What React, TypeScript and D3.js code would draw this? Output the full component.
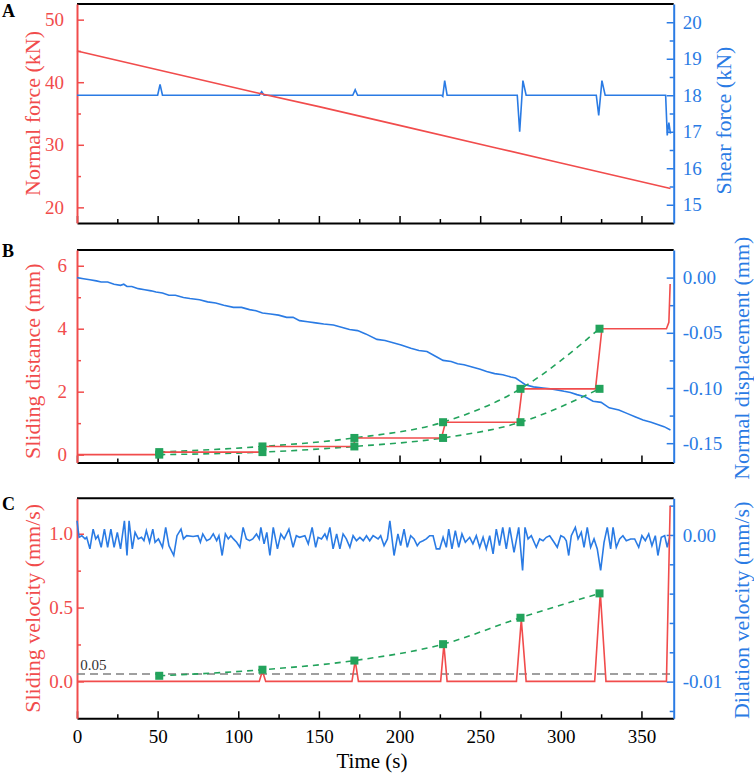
import React, { useEffect, useRef } from "react";
import * as d3 from "d3";

// ---- panel A: normal force (left) and shear force (right)
const normalForceT = [0, 60, 110, 150, 200, 260, 300, 330, 368];
const normalForce = [45.0, 41.4, 38.4, 36.1, 33.1, 29.5, 27.1, 25.3, 23.0];

const shearT = [0, 50, 51.5, 53, 113, 114.5, 116, 171, 172.5, 174, 226, 226.8, 228, 229.5, 273, 274.5, 276.5, 278.5, 322, 323.5, 325.5, 327.5, 365, 366, 367, 368];
const shear = [18, 18, 18.3, 18, 18, 18.1, 18, 18, 18.15, 18, 18, 17.97, 18.4, 18, 18, 17.0, 18.4, 18, 18, 17.45, 18.4, 18, 18, 16.9, 17.25, 16.95];

// ---- panel B: sliding distance (left) and normal displacement (right)
const slideDistT = [0, 50, 52, 114, 116, 171, 173, 226, 228.5, 273.5, 276, 321.5, 325.5, 365.5, 367, 367.8];
const slideDist = [0, 0, 0.08, 0.08, 0.26, 0.26, 0.53, 0.53, 1.03, 1.03, 2.09, 2.09, 4.0, 4.0, 4.2, 5.42];

const eventT = [51, 115, 172, 227, 275, 324];
const distBefore = [0.0, 0.08, 0.26, 0.53, 1.03, 2.09];
const distAfter = [0.08, 0.26, 0.53, 1.03, 2.09, 4.0];

const normDispT = [
  0, 4, 8, 12, 15, 19, 23, 27, 29, 31, 34, 38, 42, 46, 49, 53, 57, 61, 66, 70, 76, 81, 86, 91, 97, 102, 107, 111, 115, 120,
  125, 130, 134, 138, 143, 148, 153, 159, 164, 169, 174, 179, 186, 191, 196, 201, 207, 212, 217, 222, 227, 232, 236, 240,
  245, 250, 254, 259, 264, 269, 272, 275, 278, 283, 289, 295, 302, 306, 310, 315, 320, 325, 330, 336, 341, 346, 351, 356,
  360, 364, 368,
];
const normDisp = [
  0.0, -0.001, -0.002, -0.003, -0.004, -0.004, -0.006, -0.007, -0.006, -0.008, -0.008, -0.010, -0.011, -0.012, -0.013,
  -0.014, -0.016, -0.016, -0.018, -0.019, -0.020, -0.022, -0.023, -0.025, -0.027, -0.027, -0.029, -0.030, -0.032, -0.033,
  -0.034, -0.036, -0.036, -0.039, -0.040, -0.041, -0.042, -0.043, -0.045, -0.047, -0.048, -0.051, -0.056, -0.057, -0.059,
  -0.061, -0.064, -0.066, -0.067, -0.071, -0.075, -0.076, -0.078, -0.079, -0.081, -0.083, -0.085, -0.087, -0.088, -0.090,
  -0.091, -0.094, -0.097, -0.099, -0.100, -0.101, -0.103, -0.104, -0.106, -0.108, -0.112, -0.113, -0.118, -0.120, -0.123,
  -0.126, -0.129, -0.131, -0.133, -0.135, -0.138,
];

// ---- panel C: sliding velocity (left) and dilation velocity (right)
const slideVelT = [0, 113, 115, 117, 170.5, 172.5, 174.5, 225.5, 227.5, 229.5, 272.5, 275.5, 278.5, 321, 324.5, 328, 365.5, 367.8];
const slideVel = [0, 0, 0.07, 0, 0, 0.14, 0, 0, 0.25, 0, 0, 0.42, 0, 0, 0.6, 0, 0, 1.19];
const peakVel = [0.038, 0.079, 0.141, 0.252, 0.431, 0.596];
const thresholdVel = 0.05;

const dilT = [
  0, 1.3, 3, 5, 6, 8, 10, 11.6, 13, 15, 17, 19, 21, 23, 25, 27, 29.4, 31, 32.3, 34.3, 36, 38, 40, 41.5, 43, 45, 47, 48.4,
  50.5, 53, 55, 57, 60, 62, 64.5, 66, 68, 72, 75, 76.5, 78, 80.4, 82.5, 84.5, 86.6, 88, 90, 92, 93.8, 95.4, 97, 99, 101,
  103, 105, 107, 109, 111.3, 113, 114, 116, 117.7, 119.6, 121.7, 124.3, 126.4, 128.5, 131.4, 134, 136, 138, 141.3, 143.4,
  145.8, 148, 149.5, 151.6, 153.7, 155, 156.8, 158.8, 161, 163, 165, 167, 169.2, 171.2, 173.3, 175.4, 177.5, 179.5, 181.5,
  183.6, 186.7, 188.3, 190.4, 192.5, 194, 196.6, 199, 200.7, 202.8, 204.8, 206.9, 209, 211, 212.5, 214.6, 216.6, 218.7,
  220.8, 222.8, 224.9, 227, 229, 230.5, 232.5, 234.6, 236.7, 238.7, 240.8, 243.5, 245.5, 247.6, 249.7, 251.8, 253.8,
  255.9, 258, 260, 262, 264, 266.2, 268.3, 271, 273.9, 276.3, 277.8, 279.7, 281.7, 284.8, 286.9, 289, 291, 293.1, 295.8,
  297.8, 300, 302, 303.4, 304.9, 306.5, 309, 310.7, 312.7, 314.4, 316.4, 318.5, 320.6, 322.6, 324.7, 326.8, 328.8, 330.9,
  332.4, 334.4, 336.5, 338.5, 340.6, 343.3, 345.8, 348.3, 350.3, 352.4, 354.5, 356.5, 358.6, 360.2, 362.3, 364.4, 366, 367.5,
];
const dilVel = [
  0.00097, -0.00016, -0.00005, -0.00027, -0.00016, -0.00095, 0.0004, -0.00027, -0.00005, -0.00084, 0.0004, -0.00084, 0.0004,
  -0.00084, 0.00018, -0.00095, 0.00097, -0.0014, 0.00097, -0.00095, 0.00018, -0.00027, -0.00016, -0.00039, 0.00029, -0.0005,
  0.0004, -0.0005, -0.00027, -0.00084, 0.00052, -0.00073, -0.0014, -0.00005, 0.0004, -0.00027, -0.00005, -0.0001, -0.00005,
  -0.0005, 0.00007, -0.00039, -0.00027, 0.00007, -0.00039, -0.00005, -0.0014, 0.00007, -0.00027, -0.00005, -0.00027,
  -0.0005, -0.00084, 0.00052, -0.00027, -0.00039, -0.00027, 0.00007, -0.00027, 0.00052, -0.00061, 0.00018, -0.0014,
  0.00052, -0.00095, 0.00007, -0.00027, 0.0004, -0.00084, -0.00005, -0.00016, -0.00005, -0.00061, 0.00052, -0.00084,
  -0.00016, -0.00027, 0.00007, -0.00027, 0.00052, -0.00095, 0.00007, -0.00095, 0.00007, -0.00027, -0.00084, -0.00005,
  -0.00039, -0.00016, -0.00039, -0.00005, -0.00039, -0.00005, -0.00027, -0.00005, -0.00073, -0.00027, 0.00097, -0.0014,
  0.00007, -0.00073, 0.0004, -0.00084, -0.00005, -0.00027, -0.00073, -0.0005, -0.00039, -0.00027, -0.00005, -0.00005,
  -0.00095, -0.00095, -0.00016, -0.00084, 0.0004, -0.00095, 0.00029, -0.00084, 0.00007, -0.0005, -0.00016, -0.00061,
  -0.00005, -0.00084, -0.00016, -0.00095, -0.00005, -0.00129, 0.0004, -0.00073, 0.00052, -0.00095, 0.00052, -0.00118,
  0.00052, -0.00242, 0.00052, -0.00027, -0.00005, -0.00084, -0.00027, -0.00039, -0.00016, -0.00005, -0.0005, -0.00084,
  -0.00005, -0.00016, -0.00039, -0.0014, -0.00005, 0.00052, -0.00027, 0.00018, -0.00084, 0.00052, -0.00084, -0.00027,
  -0.00095, -0.00242, -0.0005, 0.00052, -0.00095, 0.00052, -0.00084, -0.00027, -0.00005, -0.00039, -0.00027, -0.00027,
  -0.00084, -0.00005, -0.00039, 0.00007, -0.00073, -0.00005, -0.0014, -0.00016, -0.00005, -0.00084, -0.00016,
];

// ---- ticks
const timeTicks = [0, 50, 100, 150, 200, 250, 300, 350];
const timeMinor = [25, 75, 125, 175, 225, 275, 325];

const RED = "#f14c4c";
const BLUE = "#2a7be4";
const GREEN = "#23a35c";
const FONT = "Liberation Serif, Times New Roman, serif";

const X0 = 77;
const X1 = 673.7;

type Sel = d3.Selection<SVGGElement, unknown, null, undefined>;

function styleAxis(g: Sel, color: string, labelSize: number) {
  g.attr("font-family", FONT).attr("font-size", labelSize);
  g.select(".domain").attr("stroke", color).attr("stroke-width", 2);
  g.selectAll(".tick line").attr("stroke", color).attr("stroke-width", 1.5);
  g.selectAll(".tick text").attr("fill", color);
}

function fmtSigned(digits: number) {
  return (d: any) => (d < 0 ? "-" : "") + Math.abs(+d).toFixed(digits);
}

function drawPanel(
  svg: d3.Selection<SVGSVGElement, unknown, null, undefined>,
  top: number,
  bottom: number,
  yL: d3.ScaleLinear<number, number>,
  yR: d3.ScaleLinear<number, number>,
  opts: {
    leftMajor: number[]; leftMinor: number[]; leftFmt: (d: any) => string; leftPad: number;
    rightMajor: number[]; rightMinor: number[]; rightFmt: (d: any) => string;
    showTimeLabels: boolean;
  }
) {
  const x = d3.scaleLinear().domain([0, 370]).range([X0, X1]);
  const g = svg.append("g");

  // top frame
  g.append("line").attr("x1", X0).attr("x2", X1).attr("y1", top).attr("y2", top).attr("stroke", "#000").attr("stroke-width", 2);

  // bottom time axis
  const bx = g.append("g").attr("transform", `translate(0,${bottom})`)
    .call(d3.axisBottom(x).tickValues(timeTicks).tickSizeInner(-7).tickSizeOuter(0).tickPadding(11)
      .tickFormat(opts.showTimeLabels ? (d: any) => String(d) : () => ""));
  styleAxis(bx, "#000", 19);
  const bxm = g.append("g").attr("transform", `translate(0,${bottom})`)
    .call(d3.axisBottom(x).tickValues(timeMinor).tickSizeInner(-4).tickFormat(() => ""));
  bxm.select(".domain").remove();
  bxm.selectAll(".tick line").attr("stroke", "#000").attr("stroke-width", 1.5);

  // left axis
  const la = g.append("g").attr("transform", `translate(${X0},0)`)
    .call(d3.axisLeft(yL).tickValues(opts.leftMajor).tickSizeInner(-7).tickSizeOuter(0).tickPadding(opts.leftPad).tickFormat(opts.leftFmt));
  styleAxis(la, RED, 19);
  const lam = g.append("g").attr("transform", `translate(${X0},0)`)
    .call(d3.axisLeft(yL).tickValues(opts.leftMinor).tickSizeInner(-4).tickFormat(() => ""));
  lam.select(".domain").remove();
  lam.selectAll(".tick line").attr("stroke", RED).attr("stroke-width", 1.5);

  // right axis
  const ra = g.append("g").attr("transform", `translate(${X1},0)`)
    .call(d3.axisRight(yR).tickValues(opts.rightMajor).tickSizeInner(-7).tickSizeOuter(0).tickPadding(9).tickFormat(opts.rightFmt));
  styleAxis(ra, BLUE, 19);
  const ram = g.append("g").attr("transform", `translate(${X1},0)`)
    .call(d3.axisRight(yR).tickValues(opts.rightMinor).tickSizeInner(-4).tickFormat(() => ""));
  ram.select(".domain").remove();
  ram.selectAll(".tick line").attr("stroke", BLUE).attr("stroke-width", 1.5);

  return { g, x };
}

function lineOf(x: d3.ScaleLinear<number, number>, y: d3.ScaleLinear<number, number>, ts: number[], vs: number[], curve: d3.CurveFactory = d3.curveLinear) {
  return d3.line<number>().x((_, i) => x(ts[i])).y((v) => y(v)).curve(curve)(vs) || "";
}

function MakeChart(ref: React.MutableRefObject<SVGSVGElement | null>) {
  const svg = d3.select(ref.current as SVGSVGElement);
  svg.selectAll("*").remove();
  svg.attr("font-family", FONT);

  //============================ panel A
  const aTop = 4, aBot = 223;
  const yA = d3.scaleLinear().domain([17.5, 52.5]).range([aBot, aTop]);
  const yAr = d3.scaleLinear().domain([14.5, 20.5]).range([aBot, aTop]);
  const A = drawPanel(svg, aTop, aBot, yA, yAr, {
    leftMajor: [20, 30, 40, 50], leftMinor: [25, 35, 45], leftFmt: (d) => String(d), leftPad: 13,
    rightMajor: [15, 16, 17, 18, 19, 20], rightMinor: [15.5, 16.5, 17.5, 18.5, 19.5], rightFmt: (d) => String(d),
    showTimeLabels: false,
  });
  A.g.append("path").attr("d", lineOf(A.x, yAr, shearT, shear)).attr("fill", "none").attr("stroke", BLUE).attr("stroke-width", 1.6);
  A.g.append("path").attr("d", lineOf(A.x, yA, normalForceT, normalForce)).attr("fill", "none").attr("stroke", RED).attr("stroke-width", 1.6);

  //============================ panel B
  const bTop = 250, bBot = 462.5;
  const yB = d3.scaleLinear().domain([-0.25, 6.5]).range([bBot, bTop]);
  const yBr = d3.scaleLinear().domain([-0.1675, 0.025]).range([bBot, bTop]);
  const B = drawPanel(svg, bTop, bBot, yB, yBr, {
    leftMajor: [0, 2, 4, 6], leftMinor: [1, 3, 5], leftFmt: (d) => String(d), leftPad: 10,
    rightMajor: [0, -0.05, -0.1, -0.15], rightMinor: [-0.025, -0.075, -0.125], rightFmt: fmtSigned(2),
    showTimeLabels: false,
  });
  B.g.append("path").attr("d", lineOf(B.x, yBr, normDispT, normDisp)).attr("fill", "none").attr("stroke", BLUE).attr("stroke-width", 1.6);
  [distBefore, distAfter].forEach((vals) => {
    B.g.append("path").attr("d", lineOf(B.x, yB, eventT, vals, d3.curveMonotoneX))
      .attr("fill", "none").attr("stroke", GREEN).attr("stroke-width", 1.6).attr("stroke-dasharray", "6,5");
  });
  B.g.append("path").attr("d", lineOf(B.x, yB, slideDistT, slideDist)).attr("fill", "none").attr("stroke", RED).attr("stroke-width", 1.6);
  [distBefore, distAfter].forEach((vals) => {
    B.g.append("g").selectAll("rect").data(vals).enter().append("rect")
      .attr("x", (_, i) => B.x(eventT[i]) - 4).attr("y", (d) => yB(d) - 4)
      .attr("width", 8).attr("height", 8).attr("fill", GREEN);
  });

  //============================ panel C
  const cTop = 498.3, cBot = 718.3;
  const yC = d3.scaleLinear().domain([-0.25, 1.24]).range([cBot, cTop]);
  const yCr = d3.scaleLinear().domain([-0.0125, 0.0025]).range([cBot, cTop]);
  const C = drawPanel(svg, cTop, cBot, yC, yCr, {
    leftMajor: [0, 0.5, 1.0], leftMinor: [0.25, 0.75], leftFmt: (d) => (+d).toFixed(1), leftPad: 4,
    rightMajor: [0, -0.01], rightMinor: [0.002, -0.002, -0.004, -0.006, -0.008, -0.012], rightFmt: fmtSigned(2),
    showTimeLabels: true,
  });
  C.g.append("line").attr("x1", C.x(0)).attr("x2", C.x(370)).attr("y1", yC(thresholdVel)).attr("y2", yC(thresholdVel))
    .attr("stroke", "#808080").attr("stroke-width", 1.6).attr("stroke-dasharray", "8,5");
  C.g.append("text").attr("x", C.x(2)).attr("y", yC(thresholdVel) - 4).attr("font-size", 15)
    .attr("fill", "#333").text("0.05");
  C.g.append("path").attr("d", lineOf(C.x, yCr, dilT, dilVel)).attr("fill", "none").attr("stroke", BLUE).attr("stroke-width", 1.6);
  C.g.append("path").attr("d", lineOf(C.x, yC, eventT, peakVel, d3.curveMonotoneX))
    .attr("fill", "none").attr("stroke", GREEN).attr("stroke-width", 1.6).attr("stroke-dasharray", "6,5");
  C.g.append("path").attr("d", lineOf(C.x, yC, slideVelT, slideVel)).attr("fill", "none").attr("stroke", RED).attr("stroke-width", 1.6);
  C.g.append("g").selectAll("rect").data(peakVel).enter().append("rect")
    .attr("x", (_, i) => C.x(eventT[i]) - 4).attr("y", (d) => yC(d) - 4)
    .attr("width", 8).attr("height", 8).attr("fill", GREEN);

  // x label
  svg.append("text").attr("x", 372).attr("y", 768).attr("text-anchor", "middle")
    .attr("font-size", 21).text("Time (s)");

  // panel letters
  [["A", 17, aTop], ["B", 257, bTop], ["C", 510, cTop]].forEach(([t, y]) => {
    svg.append("text").attr("x", 2).attr("y", y as number).attr("font-size", 18)
      .attr("font-weight", "bold").text(t as string);
  });

  // rotated axis titles
  const title = (label: string, xPos: number, yMid: number, color: string) => {
    svg.append("text").attr("transform", `translate(${xPos},${yMid})rotate(-90)`).attr("text-anchor", "middle")
      .attr("font-size", 22).attr("fill", color).text(label);
  };
  title("Normal force (kN)", 40, (aTop + aBot) / 2, RED);
  title("Shear force (kN)", 731, (aTop + aBot) / 2 + 7, BLUE);
  title("Sliding distance (mm)", 40, (bTop + bBot) / 2 + 5, RED);
  title("Normal displacement (mm)", 749, (bTop + bBot) / 2 + 2, BLUE);
  title("Sliding velocity (mm/s)", 40, (cTop + cBot) / 2, RED);
  title("Dilation velocity (mm/s)", 749, (cTop + cBot) / 2 + 2, BLUE);
}

const App = () => {
  const ref = useRef<SVGSVGElement | null>(null);
  useEffect(() => {
    MakeChart(ref);
  }, []);
  return (
    <svg ref={ref} width={754} height={775} style={{ position: "absolute", left: 0, top: 0, background: "#fff" }} />
  );
};

export default App;
